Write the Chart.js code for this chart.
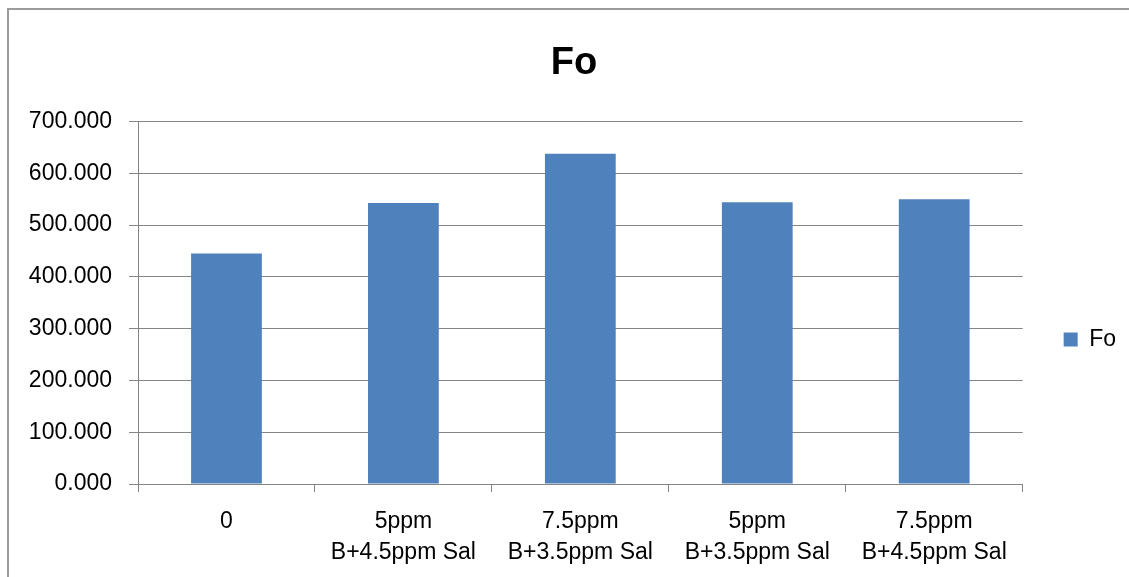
<!DOCTYPE html>
<html>
<head>
<meta charset="utf-8">
<title>Fo</title>
<script src="https://cdn.jsdelivr.net/npm/chart.js@4.4.1/dist/chart.umd.min.js"></script>
<style>
  html, body { margin: 0; padding: 0; background: #ffffff; overflow: hidden; }
  #frame {
    position: absolute; left: 7px; top: 8px; width: 1300px; height: 800px;
    border-top: 2px solid #9b9b9b; border-left: 2px solid #9b9b9b;
    box-sizing: border-box;
  }
  #wrap { position: absolute; left: 0; top: 0; width: 1129px; height: 577px; }
</style>
</head>
<body>
<div id="frame"></div>
<div id="wrap"><canvas id="chart" width="1129" height="577"></canvas></div>
<script>
// Treatments (multi-line axis labels)
const categories = [
  ['0'],
  ['5ppm', 'B+4.5ppm Sal'],
  ['7.5ppm', 'B+3.5ppm Sal'],
  ['5ppm', 'B+3.5ppm Sal'],
  ['7.5ppm', 'B+4.5ppm Sal']
];
// Fo values per treatment
const foValues = [445, 543, 638, 544, 550];
// Value axis
const yMin = 0;
const yMax = 700;
const yStep = 100;

const FONT = "'Liberation Sans', Arial, sans-serif";
const GRID = '#858585';

new Chart(document.getElementById('chart'), {
  type: 'bar',
  data: {
    labels: categories,
    datasets: [{
      label: 'Fo',
      data: foValues,
      backgroundColor: '#4F81BD',
      borderWidth: 0,
      categoryPercentage: 1.0,
      barPercentage: 0.4
    }]
  },
  options: {
    responsive: false,
    animation: false,
    layout: { padding: { left: 22, right: 3, top: 0, bottom: 0 } },
    plugins: {
      title: {
        display: true,
        text: 'Fo',
        color: '#000000',
        font: { family: FONT, size: 38, weight: 'bold', lineHeight: 1.2 },
        padding: { top: 41, bottom: 35 }
      },
      legend: {
        display: true,
        position: 'right',
        labels: {
          color: '#000000',
          font: { family: FONT, size: 23 },
          boxWidth: 14,
          boxHeight: 14,
          padding: 41
        },
        title: {
          display: true,
          text: '',
          font: { size: 10, lineHeight: 1 },
          padding: { top: 92, bottom: 0 }
        }
      },
      tooltip: { enabled: false }
    },
    scales: {
      x: {
        afterFit: (scale) => { scale.height = 93; },
        grid: {
          offset: true,
          drawOnChartArea: false,
          drawTicks: true,
          tickLength: 8,
          color: GRID,
          lineWidth: 1
        },
        border: { display: true, color: GRID, width: 1 },
        ticks: {
          color: '#000000',
          font: { family: FONT, size: 23, lineHeight: 1.35 },
          padding: 14,
          maxRotation: 0,
          autoSkip: false
        }
      },
      y: {
        min: yMin,
        max: yMax,
        afterFit: (scale) => { scale.width = 116; },
        grid: {
          color: GRID,
          lineWidth: 1,
          drawTicks: true,
          tickLength: 9
        },
        border: { display: true, color: GRID, width: 1 },
        ticks: {
          stepSize: yStep,
          color: '#000000',
          font: { family: FONT, size: 23 },
          padding: 17,
          callback: (v) => Number(v).toFixed(3)
        }
      }
    }
  }
});
</script>
</body>
</html>
